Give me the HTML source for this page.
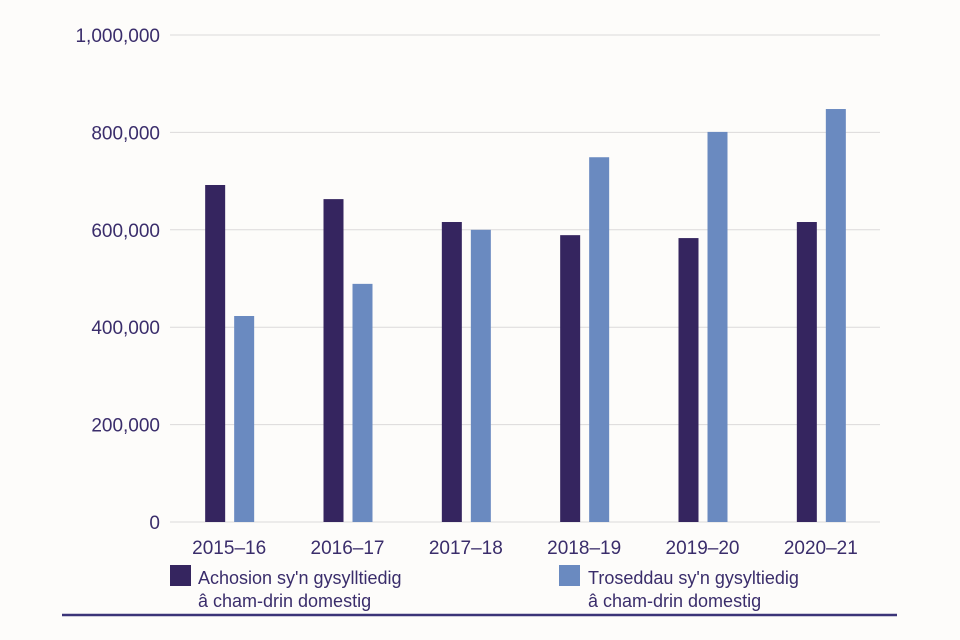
<!DOCTYPE html>
<html><head><meta charset="utf-8"><style>
html,body{margin:0;padding:0;background:#fdfcfa;}
svg{display:block;font-family:"Liberation Sans",Arial,sans-serif;}
</style></head><body>
<svg id="chart" width="960" height="640" viewBox="0 0 960 640" xmlns="http://www.w3.org/2000/svg">
<rect width="960" height="640" fill="#fdfcfa"/>
<g id="grid"></g>
<g id="yaxis"></g>
<g id="bars"></g>
<g id="xaxis"></g>
<g>
  <g>
    <rect x="170" y="565" width="21" height="21" fill="#35255f"/>
    <text x="198" y="584" font-size="18" fill="#3a2d6b">Achosion sy'n gysylltiedig</text>
    <text x="198" y="607" font-size="18" fill="#3a2d6b">â cham-drin domestig</text>
  </g>
  <g>
    <rect x="559" y="565" width="21" height="21" fill="#6a8ac0"/>
    <text x="588" y="584" font-size="18" fill="#3a2d6b">Troseddau sy'n gysyltiedig</text>
    <text x="588" y="607" font-size="18" fill="#3a2d6b">â cham-drin domestig</text>
  </g>
</g>
<line x1="62" y1="615" x2="897" y2="615" stroke="#3b3478" stroke-width="2.5"/>
</svg>
<script>
const categories = ["2015–16","2016–17","2017–18","2018–19","2019–20","2020–21"];
const casesValues = [692000, 663000, 616000, 589000, 583000, 616000];
const crimesValues = [423000, 489000, 600000, 749000, 801000, 848000];
const yTicks = [0, 200000, 400000, 600000, 800000, 1000000];
const yTickLabels = ["0","200,000","400,000","600,000","800,000","1,000,000"];

const NS = "http://www.w3.org/2000/svg";
const plotLeft = 170, plotRight = 880, yZero = 522, yTop = 35, yMax = 1000000;
function y(v){ return yZero - (v / yMax) * (yZero - yTop); }
const band = (plotRight - plotLeft) / categories.length;
function xc(i){ return plotLeft + band * (i + 0.5); }
function mk(tag, attrs, parent){
  const el = document.createElementNS(NS, tag);
  for (const k in attrs) el.setAttribute(k, attrs[k]);
  parent.appendChild(el);
  return el;
}
const grid = document.getElementById("grid");
const yaxis = document.getElementById("yaxis");
yTicks.forEach((t, i) => {
  const ln = mk("line", {x1: plotLeft, x2: plotRight, y1: y(t), y2: y(t), stroke: "#dcdada", "stroke-width": 1}, grid);
  
  
  const tx = mk("text", {x: 160, y: y(t) + 7, "text-anchor": "end", "font-size": 19, fill: "#3a2d6b"}, yaxis);
  tx.textContent = yTickLabels[i];
  
  
});
const bars = document.getElementById("bars");
const xaxis = document.getElementById("xaxis");
const bw = 20;
categories.forEach((c, i) => {
  const cx = xc(i);
  const b1 = mk("rect", {x: cx - 24, y: y(casesValues[i]), width: bw, height: yZero - y(casesValues[i]), fill: "#35255f"}, bars);
  
  
  const b2 = mk("rect", {x: cx + 5, y: y(crimesValues[i]), width: bw, height: yZero - y(crimesValues[i]), fill: "#6a8ac0"}, bars);
  
  
  const tx = mk("text", {x: cx, y: 554, "text-anchor": "middle", "font-size": 19, fill: "#3a2d6b"}, xaxis);
  tx.textContent = c;
  
  
});
</script>
</body></html>
